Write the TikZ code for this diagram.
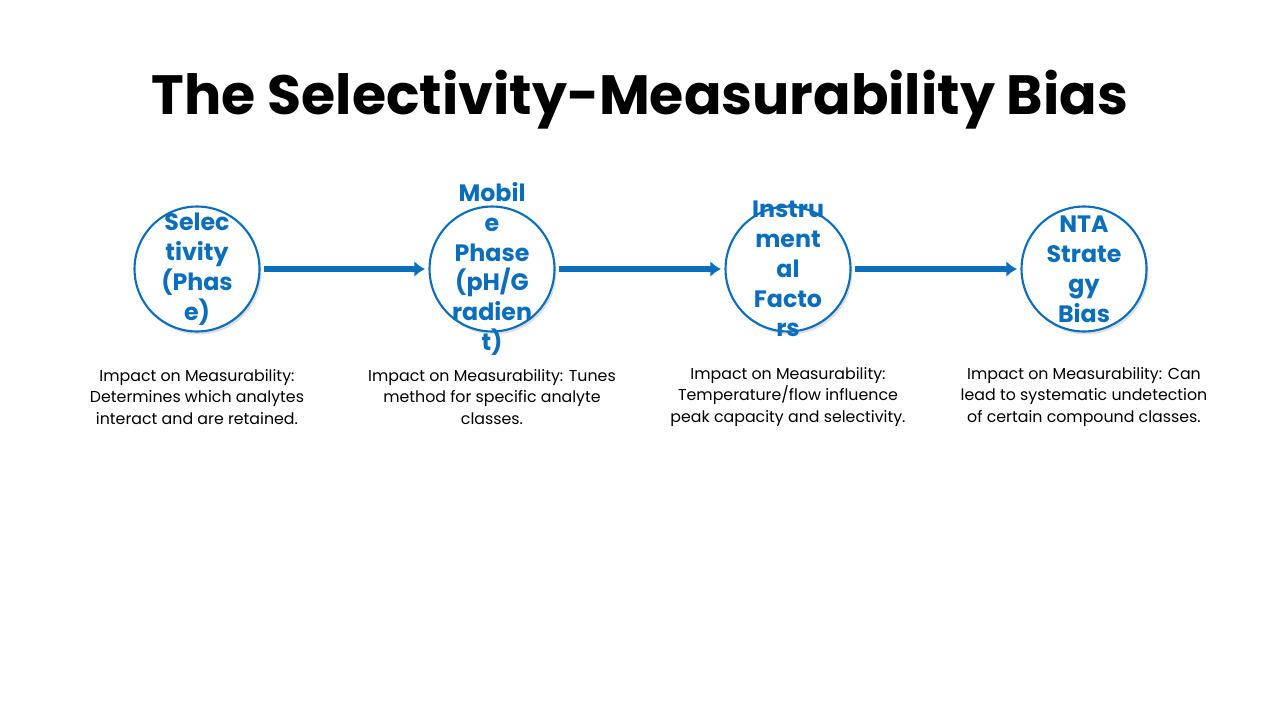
\documentclass[tikz,border=0pt]{standalone}
\usepackage{fontspec}
\setmainfont{Poppins}
\usetikzlibrary{shadows}
\definecolor{stageblue}{HTML}{0A6EBD}
\tikzset{
  stage/.style={circle, draw=stageblue, line width=1.2pt, fill=white, minimum size=2.5cm,
    drop shadow={opacity=0.25, shadow xshift=0.04cm, shadow yshift=-0.06cm}},
  stagetext/.style={text=stageblue, font=\fontsize{13.5}{17}\selectfont\bfseries, align=center},
  impact/.style={font=\fontsize{9}{12.4}\selectfont, align=center},
  flow/.style={stageblue, line width=3pt, -{Latex[length=6pt,width=9pt]}, shorten <=2pt, shorten >=2pt}
}
\usetikzlibrary{arrows.meta}
\begin{document}
\begin{tikzpicture}[x=0.02cm, y=-0.02cm]
  \useasboundingbox (0,0) rectangle (1280,720);

  \node (title) at (640,100) {\fontsize{31.5}{36}\selectfont\bfseries The Selectivity-Measurability Bias};

  % stages
  \def\cy{269};
  \foreach \x/\name in {197/sel, 492/mob, 788/ins, 1084/nta}{
    \node[stage] (\name) at (\x,\cy) {};
  }
  \node[stagetext] at (sel) {Selec\\tivity\\(Phas\\e)};
  \node[stagetext] at (mob) {Mobil\\e\\Phase\\(pH/G\\radien\\t)};
  \node[stagetext] at (ins) {Instru\\ment\\al\\Facto\\rs};
  \node[stagetext] at (nta) {NTA\\Strate\\gy\\Bias};

  \draw[flow] (sel) -- (mob);
  \draw[flow] (mob) -- (ins);
  \draw[flow] (ins) -- (nta);

  % impact texts
  \node[impact] (isel) at (197,397) {Impact on Measurability:\\Determines which analytes\\interact and are retained.};
  \node[impact] (imob) at (492,397) {Impact on Measurability: Tunes\\method for specific analyte\\classes.};
  \node[impact] (iins) at (788,397) {Impact on Measurability:\\Temperature/flow influence\\peak capacity and selectivity.};
  \node[impact] (inta) at (1084,397) {Impact on Measurability: Can\\lead to systematic undetection\\of certain compound classes.};
\end{tikzpicture}
\end{document}
